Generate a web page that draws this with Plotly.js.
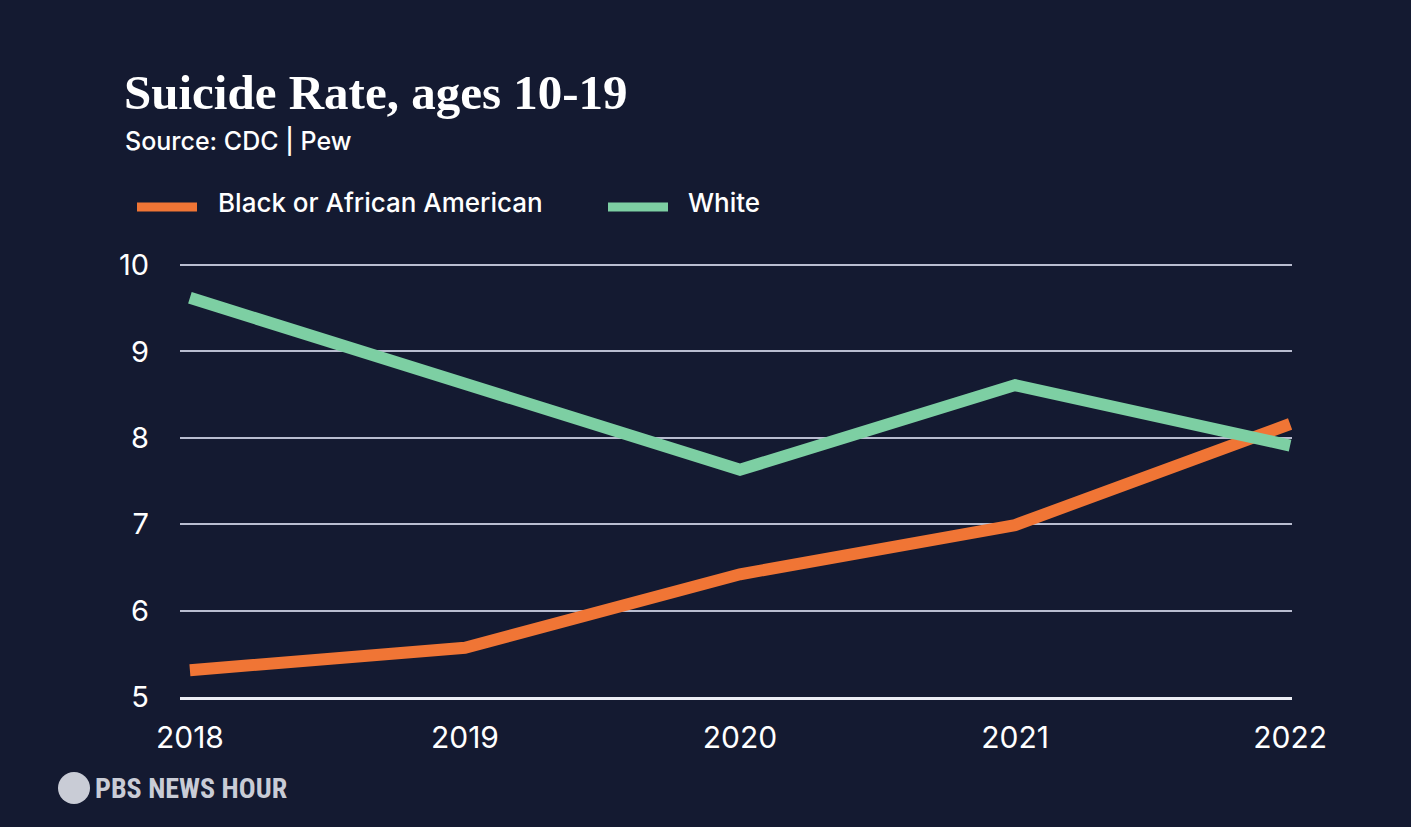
<!DOCTYPE html>
<html>
<head>
<meta charset="utf-8">
<script src="https://cdn.plot.ly/plotly-3.0.1.min.js"></script>
<style>
html,body{margin:0;padding:0;background:#141a31;}
#chart{width:1411px;height:827px;}
</style>
</head>
<body>
<div id="chart"></div>
<script>
const years = [2018, 2019, 2020, 2021, 2022];
const black = [5.31, 5.57, 6.42, 6.99, 8.16];
const white = [9.62, 8.61, 7.63, 8.61, 7.91];
const yTicks = [5, 6, 7, 8, 9, 10];
const seriesNames = ["Black or African American", "White"];
const colors = ["#f07535", "#7dcfa3"];

const bg = "#141a31";
const sans = "Inter, 'Liberation Sans', Arial, sans-serif";

const traces = [
  {x: years, y: black, name: seriesNames[0], type: "scatter", mode: "lines",
   line: {color: colors[0], width: 12}, showlegend: false},
  {x: years, y: white, name: seriesNames[1], type: "scatter", mode: "lines",
   line: {color: colors[1], width: 12}, showlegend: false}
];

// plot area: x 180..1292, y 263..697
const W = 1112, H = 434;
const py = v => (697 - v) / H;
const px = v => (v - 180) / W;

const layout = {
  width: 1411, height: 827,
  paper_bgcolor: bg, plot_bgcolor: bg,
  margin: {l: 180, r: 119, t: 263, b: 130},
  title: {
    text: "Suicide Rate, ages 10-19",
    font: {family: "'Liberation Serif', 'DejaVu Serif', serif", size: 49, color: "#ffffff", weight: 700},
    x: 124/1411, xanchor: "left", xref: "container",
    y: 1 - 92/827, yanchor: "middle", yref: "container"
  },
  xaxis: {
    range: [2017.964, 2022.007],
    tickvals: years, ticktext: years.map(String),
    showgrid: false, zeroline: false,
    showline: true, linecolor: "#eceef5", linewidth: 2.5,
    ticks: "", ticklabelstandoff: 12,
    tickfont: {family: sans, size: 30, color: "#ffffff"},
    fixedrange: true
  },
  yaxis: {
    range: [5, 10.0232],
    tickvals: yTicks, ticktext: yTicks.map(String),
    showgrid: true, gridcolor: "#b9bdd0", gridwidth: 2,
    zeroline: false, showline: false, ticks: "",
    ticklabelstandoff: 30,
    tickfont: {family: sans, size: 29, color: "#ffffff"},
    fixedrange: true
  },
  shapes: [
    {type: "line", xref: "paper", yref: "paper", layer: "above",
     x0: px(137), x1: px(197), y0: py(207), y1: py(207),
     line: {color: colors[0], width: 9}},
    {type: "line", xref: "paper", yref: "paper", layer: "above",
     x0: px(608), x1: px(668), y0: py(207), y1: py(207),
     line: {color: colors[1], width: 9}},
    {type: "circle", xref: "paper", yref: "paper",
     x0: px(58), x1: px(90), y0: py(804), y1: py(772),
     line: {color: "#c9ccd6", width: 0}, fillcolor: "#c9ccd6"}
  ],
  annotations: [
    {text: "Source: CDC | Pew", xref: "paper", yref: "paper",
     x: px(123), y: py(141), xanchor: "left", yanchor: "middle", showarrow: false,
     font: {family: sans, size: 25, color: "#ffffff", weight: 500}},
    {text: seriesNames[0], xref: "paper", yref: "paper",
     x: px(216), y: py(202), xanchor: "left", yanchor: "middle", showarrow: false,
     font: {family: sans, size: 26, color: "#ffffff", weight: 500}},
    {text: seriesNames[1], xref: "paper", yref: "paper",
     x: px(686), y: py(202), xanchor: "left", yanchor: "middle", showarrow: false,
     font: {family: sans, size: 26, color: "#ffffff", weight: 500}},
    {text: "<b>PBS NEWS HOUR</b>", xref: "paper", yref: "paper",
     x: px(93), y: py(788), xanchor: "left", yanchor: "middle", showarrow: false,
     font: {family: "'Roboto Condensed', 'Liberation Sans Narrow', 'DejaVu Sans Condensed', sans-serif", size: 28, color: "#c9ccd6"}}
  ],
  hovermode: false
};

Plotly.newPlot("chart", traces, layout, {displayModeBar: false, staticPlot: true});
</script>
</body>
</html>
